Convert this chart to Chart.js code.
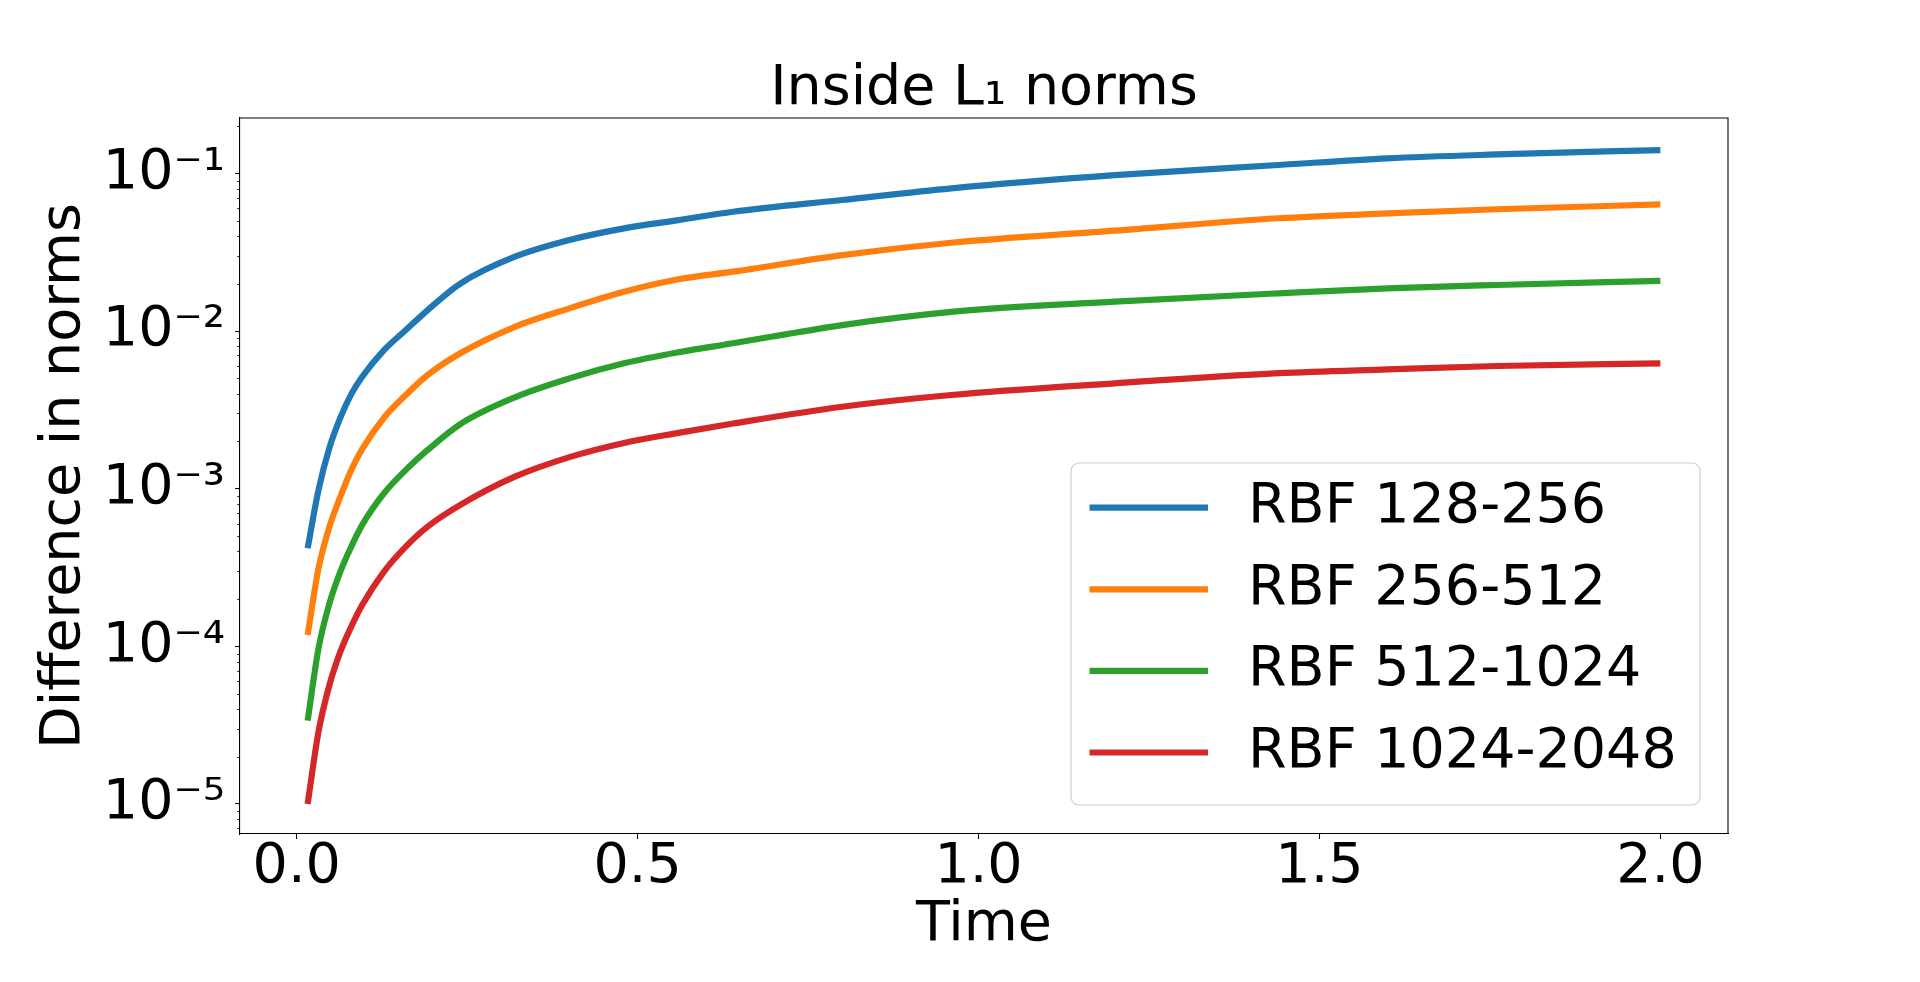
<!DOCTYPE html>
<html>
<head>
<meta charset="utf-8">
<script src="https://cdn.jsdelivr.net/npm/chart.js@4.4.1/dist/chart.umd.min.js"></script>
<style>
  html, body { margin: 0; padding: 0; background: #ffffff; overflow: hidden; }
  #wrap { width: 1920px; height: 982px; }
</style>
</head>
<body>
<div id="wrap"><canvas id="c" width="1920" height="982"></canvas></div>
<script>
// ---- data ----
const times = [0.016, 0.032, 0.048, 0.064, 0.080, 0.096, 0.128, 0.160, 0.192, 0.240, 0.320,
               0.400, 0.480, 0.560, 0.640, 0.800, 0.960, 1.200, 1.440, 1.600, 1.760, 2.000];

const rbf128_256 = [4.19e-4, 9.82e-4, 1.82e-3, 2.82e-3, 3.98e-3, 5.13e-3, 7.57e-3, 1.014e-2, 1.358e-2,
                    2.00e-2, 2.96e-2, 3.78e-2, 4.48e-2, 5.05e-2, 5.71e-2, 6.78e-2, 8.04e-2, 9.75e-2,
                    0.1130, 0.1245, 0.1318, 0.1406];

const rbf256_512 = [1.18e-4, 3.13e-4, 5.74e-4, 8.89e-4, 1.315e-3, 1.78e-3, 2.82e-3, 3.93e-3, 5.26e-3,
                    7.23e-3, 1.064e-2, 1.393e-2, 1.774e-2, 2.13e-2, 2.38e-2, 3.03e-2, 3.63e-2, 4.33e-2,
                    5.19e-2, 5.57e-2, 5.92e-2, 6.35e-2];

const rbf512_1024 = [3.38e-5, 9.73e-5, 1.875e-4, 2.98e-4, 4.29e-4, 5.89e-4, 9.35e-4, 1.315e-3, 1.76e-3,
                     2.57e-3, 3.80e-3, 5.01e-3, 6.24e-3, 7.33e-3, 8.36e-3, 1.091e-2, 1.324e-2, 1.535e-2,
                     1.734e-2, 1.866e-2, 1.959e-2, 2.08e-2];

const rbf1024_2048 = [1.00e-5, 2.88e-5, 5.69e-5, 9.25e-5, 1.334e-4, 1.828e-4, 2.98e-4, 4.29e-4, 5.74e-4,
                      7.89e-4, 1.191e-3, 1.585e-3, 1.95e-3, 2.26e-3, 2.59e-3, 3.31e-3, 3.93e-3, 4.66e-3,
                      5.40e-3, 5.71e-3, 6.00e-3, 6.24e-3];

const seriesLabels = ['RBF 128-256', 'RBF 256-512', 'RBF 512-1024', 'RBF 1024-2048'];

const xTickValues = [0.0, 0.5, 1.0, 1.5, 2.0];
const yTickValues = [1e-5, 1e-4, 1e-3, 1e-2, 1e-1];
const yTickLabels = ['10⁻⁵', '10⁻⁴', '10⁻³', '10⁻²', '10⁻¹'];

const titleText = 'Inside L₁ norms';
const xTitle = 'Time';
const yTitle = 'Difference in norms';

// ---- styling ----
const COLORS = ['#1f77b4', '#ff7f0e', '#2ca02c', '#d62728'];
const FONT = 'DejaVu Sans';
const FS = 55.5;
const LW = 6.2;
const X_MIN = -0.0832, X_MAX = 2.0992;
const Y_MIN = 6.45e-6, Y_MAX = 0.2245;

const allSeries = [rbf128_256, rbf256_512, rbf512_1024, rbf1024_2048];

function isDecade(v) {
  return yTickValues.some(d => Math.abs(v - d) / d < 1e-9);
}

// minor log ticks (2..9 x 10^n) inside the axis range
function logTicks() {
  const out = [];
  for (let e = -6; e <= 0; e++) {
    for (let m = 1; m <= 9; m++) {
      const v = m * Math.pow(10, e);
      if (v >= Y_MIN && v <= Y_MAX) out.push({ value: v, major: m === 1 });
    }
  }
  return out;
}

const frameAndLegend = {
  id: 'frameAndLegend',
  afterDraw(chart) {
    const ctx = chart.ctx;
    const ca = chart.chartArea;
    const y = chart.scales.y;
    ctx.save();
    // minor ticks on the left spine
    ctx.strokeStyle = '#000';
    ctx.lineWidth = 0.85;
    y.ticks.forEach(t => {
      if (!isDecade(t.value)) {
        const py = Math.round(y.getPixelForValue(t.value)) + 0.5;
        ctx.beginPath();
        ctx.moveTo(ca.left - 2.8, py);
        ctx.lineTo(ca.left, py);
        ctx.stroke();
      }
    });
    // top and right spines
    ctx.lineWidth = 1.1;
    ctx.beginPath();
    ctx.moveTo(ca.left, ca.top);
    ctx.lineTo(ca.right, ca.top);
    ctx.lineTo(ca.right, ca.bottom);
    ctx.stroke();

    // legend (inside, lower right)
    ctx.font = FS + 'px "' + FONT + '"';
    const ds = chart.data.datasets;
    const boxW = 629;
    const boxH = 342;
    const bx = ca.right - 28 - boxW;
    const by = ca.bottom - 29 - boxH;
    const r = 8;
    ctx.beginPath();
    ctx.moveTo(bx + r, by);
    ctx.lineTo(bx + boxW - r, by);
    ctx.arcTo(bx + boxW, by, bx + boxW, by + r, r);
    ctx.lineTo(bx + boxW, by + boxH - r);
    ctx.arcTo(bx + boxW, by + boxH, bx + boxW - r, by + boxH, r);
    ctx.lineTo(bx + r, by + boxH);
    ctx.arcTo(bx, by + boxH, bx, by + boxH - r, r);
    ctx.lineTo(bx, by + r);
    ctx.arcTo(bx, by, bx + r, by, r);
    ctx.closePath();
    ctx.fillStyle = 'rgba(255,255,255,0.8)';
    ctx.fill();
    ctx.strokeStyle = '#cccccc';
    ctx.lineWidth = 1.1;
    ctx.stroke();

    ds.forEach((d, i) => {
      const ry = by + 44.7 + i * 81.6;
      ctx.strokeStyle = d.borderColor;
      ctx.lineWidth = LW;
      ctx.lineCap = 'butt';
      ctx.beginPath();
      ctx.moveTo(bx + 18.5, ry);
      ctx.lineTo(bx + 137, ry);
      ctx.stroke();
      ctx.fillStyle = '#000';
      ctx.textAlign = 'left';
      ctx.textBaseline = 'middle';
      ctx.fillText(d.label, bx + 177, ry);
    });
    ctx.restore();
  }
};

const datasets = allSeries.map((s, i) => ({
  label: seriesLabels[i],
  data: times.map((t, k) => ({ x: t, y: s[k] })),
  borderColor: COLORS[i],
  backgroundColor: COLORS[i],
  borderWidth: LW,
  pointRadius: 0,
  pointHoverRadius: 0,
  fill: false,
  cubicInterpolationMode: 'monotone',
  borderCapStyle: 'butt',
  borderJoinStyle: 'round'
}));

new Chart(document.getElementById('c'), {
  type: 'line',
  data: { datasets },
  plugins: [frameAndLegend],
  options: {
    responsive: false,
    devicePixelRatio: 1,
    animation: false,
    events: [],
    layout: { padding: { left: 0, right: 192, top: 0, bottom: 0 } },
    plugins: {
      legend: { display: false },
      tooltip: { enabled: false },
      title: {
        display: true,
        text: titleText,
        color: '#000',
        fullSize: false,
        font: { family: FONT, size: FS, weight: 'normal', lineHeight: 1 },
        padding: { top: 61.35, bottom: 1.15 }
      }
    },
    scales: {
      x: {
        type: 'linear',
        min: X_MIN,
        max: X_MAX,
        bounds: 'data',
        afterBuildTicks: (scale) => { scale.ticks = xTickValues.map(v => ({ value: v })); },
        afterFit: (scale) => { scale.height = 148; },
        ticks: {
          autoSkip: false,
          maxRotation: 0,
          color: '#000',
          padding: 1,
          font: { family: FONT, size: FS, lineHeight: 1 },
          callback: (v) => Number(v).toFixed(1)
        },
        grid: {
          drawOnChartArea: false,
          drawTicks: true,
          tickLength: 5,
          tickColor: '#000',
          tickWidth: 1.1
        },
        border: { display: true, color: '#000', width: 1.1 },
        title: {
          display: true,
          text: xTitle,
          color: '#000',
          font: { family: FONT, size: FS, lineHeight: 1 },
          padding: { top: 0, bottom: 28.45 }
        }
      },
      y: {
        type: 'logarithmic',
        min: Y_MIN,
        max: Y_MAX,
        bounds: 'data',
        afterBuildTicks: (scale) => { scale.ticks = logTicks(); },
        afterFit: (scale) => { scale.width = 240; },
        ticks: {
          autoSkip: false,
          color: '#000',
          padding: 10,
          font: { family: FONT, size: FS, lineHeight: 1 },
          callback: (v) => {
            const idx = yTickValues.findIndex(d => Math.abs(v - d) / d < 1e-9);
            return idx >= 0 ? yTickLabels[idx] : '';
          }
        },
        grid: {
          drawOnChartArea: false,
          drawTicks: true,
          tickLength: 5,
          tickColor: (c) => (c.tick && isDecade(c.tick.value)) ? '#000' : 'rgba(0,0,0,0)',
          tickWidth: 1.1
        },
        border: { display: true, color: '#000', width: 1.1 },
        title: {
          display: true,
          text: yTitle,
          color: '#000',
          font: { family: FONT, size: FS, lineHeight: 1 },
          padding: { top: 36.35, bottom: 0 }
        }
      }
    }
  }
});
</script>
</body>
</html>
